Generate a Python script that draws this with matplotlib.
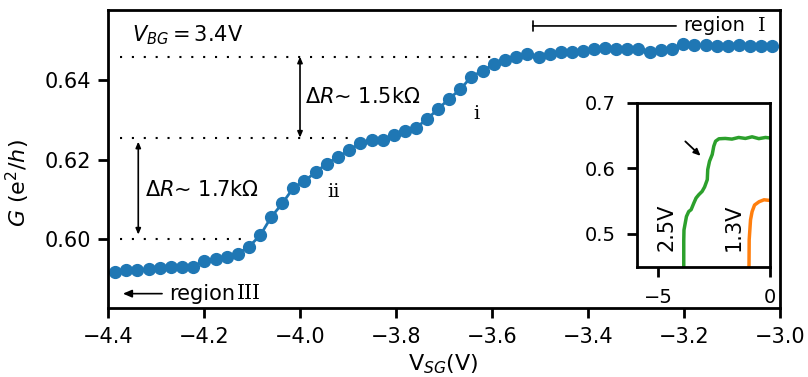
import matplotlib
matplotlib.use('Agg')
import matplotlib.pyplot as plt

# main sweep: G vs side gate voltage
v_sg = [-4.385, -4.362, -4.339, -4.315, -4.292, -4.269, -4.246, -4.223, -4.199, -4.176,
        -4.153, -4.130, -4.107, -4.083, -4.060, -4.037, -4.014, -3.991, -3.967, -3.944,
        -3.921, -3.898, -3.875, -3.851, -3.828, -3.805, -3.782, -3.759, -3.735, -3.712,
        -3.689, -3.666, -3.643, -3.619, -3.596, -3.573, -3.550, -3.527, -3.503, -3.480,
        -3.457, -3.434, -3.411, -3.387, -3.364, -3.341, -3.318, -3.295, -3.271, -3.248,
        -3.225, -3.202, -3.179, -3.155, -3.132, -3.109, -3.086, -3.063, -3.039, -3.016]
g = [0.5918, 0.5923, 0.5924, 0.5926, 0.5929, 0.5931, 0.5931, 0.5932, 0.5946, 0.5952,
     0.5957, 0.5964, 0.5981, 0.6010, 0.6056, 0.6090, 0.6129, 0.6146, 0.6169, 0.6190,
     0.6206, 0.6223, 0.6241, 0.6249, 0.6248, 0.6262, 0.6271, 0.6279, 0.6302, 0.6327,
     0.6353, 0.6376, 0.6408, 0.6423, 0.6439, 0.6449, 0.6456, 0.6464, 0.6456, 0.6464,
     0.6470, 0.6470, 0.6473, 0.6477, 0.6479, 0.6478, 0.6478, 0.6476, 0.6469, 0.6474,
     0.6476, 0.6490, 0.6488, 0.6486, 0.6485, 0.6484, 0.6486, 0.6485, 0.6485, 0.6485]

# plateau levels (dotted guides)
levels = [0.6458, 0.6255, 0.600]
level_ends = [-3.59, -3.89, -4.12]
level_start = -4.375

# inset curves
vbg25_x = [-3.85, -3.85, -3.84, -3.73, -3.63, -3.52, -3.40, -3.30, -3.18, -3.03, -2.92,
           -2.80, -2.78, -2.70, -2.58, -2.51, -2.43, -2.28, -2.0, -1.7, -1.4, -1.1,
           -0.8, -0.5, -0.2, 0.0]
vbg25_y = [0.44, 0.49, 0.506, 0.5265, 0.534, 0.537, 0.547, 0.5547, 0.5597, 0.5648, 0.5715,
           0.5827, 0.598, 0.6107, 0.621, 0.6337, 0.6413, 0.645, 0.6455, 0.6445, 0.647,
           0.6455, 0.648, 0.6452, 0.647, 0.6462]
vbg13_x = [-0.94, -0.93, -0.87, -0.80, -0.69, -0.49, -0.27, 0.0]
vbg13_y = [0.44, 0.491, 0.5214, 0.534, 0.544, 0.549, 0.552, 0.551]

blue = '#1f77b4'
fs = 15

fig = plt.figure(figsize=(8.08, 3.77), dpi=100)
ax = fig.add_axes([0.1337, 0.183, 0.8316, 0.7905])

ax.plot(v_sg, g, 'o-', color=blue, ms=8.5, lw=2)

for lev, end in zip(levels, level_ends):
    ax.plot([level_start, end], [lev, lev], color='k', lw=1.5, ls=(0, (1, 4.7)))

arr = dict(arrowstyle='<|-|>, head_length=0.35, head_width=0.15', color='k', lw=1.2,
           shrinkA=0, shrinkB=0)
ax.annotate('', xy=(-4.0, levels[0]), xytext=(-4.0, levels[1]), arrowprops=arr)
ax.annotate('', xy=(-4.337, 0.6245), xytext=(-4.337, 0.6012), arrowprops=arr)

ax.text(-3.99, 0.6356, r'$\mathit{\Delta R}$~ 1.5kΩ', fontsize=fs, va='center')
ax.text(-4.324, 0.6123, r'$\mathit{\Delta R}$~ 1.7kΩ', fontsize=fs, va='center')
ax.text(-4.351, 0.6512, r'$V_{BG} = 3.4$V', fontsize=fs, va='center')
ax.text(-3.632, 0.6315, 'i', fontsize=14, ha='center', va='center', family='DejaVu Serif')
ax.text(-3.93, 0.6118, 'ii', fontsize=14, ha='center', va='center', family='DejaVu Serif')

# region I: bar-ended line + label
ax.annotate('region', xy=(-3.515, 0.6535), xytext=(-3.073, 0.6535),
            fontsize=14, ha='right', va='center',
            arrowprops=dict(arrowstyle='-[, widthB=0.25, lengthB=0', color='k', lw=1.2,
                            shrinkA=3, shrinkB=0))
ax.text(-3.0375, 0.6535, 'I', fontsize=14, ha='center', va='center', family='DejaVu Serif')
# region III: arrow + label
ax.annotate('region', xy=(-4.369, 0.5864), xytext=(-4.273, 0.5864),
            fontsize=fs, ha='left', va='center',
            arrowprops=dict(arrowstyle='-|>, head_length=0.35, head_width=0.15',
                            color='k', lw=1.2, shrinkA=3, shrinkB=0))
ax.text(-4.131, 0.5864, 'III', fontsize=14.5, ha='left', va='center', family='DejaVu Serif')

ax.set_xlim(-4.4, -3.0)
ax.set_ylim(0.5828, 0.6575)
ax.set_xticks([-4.4, -4.2, -4.0, -3.8, -3.6, -3.4, -3.2, -3.0])
ax.set_yticks([0.60, 0.62, 0.64])
ax.set_xlabel(r'V$_{SG}$(V)', fontsize=16)
ax.set_ylabel(r'$G$ (e$^2$/$h$)', fontsize=16)
ax.xaxis.set_label_coords(0.499, -0.148)
ax.yaxis.set_label_coords(-0.113, 0.42)
ax.tick_params(labelsize=fs, width=2, length=7, pad=5)
ax.tick_params(axis='x', pad=7)
for s in ax.spines.values():
    s.set_linewidth(2)

# inset
axi = fig.add_axes([0.788, 0.2926, 0.165, 0.435])
axi.plot(vbg25_x, vbg25_y, color='#2ca02c', lw=2.5)
axi.plot(vbg13_x, vbg13_y, color='#ff7f0e', lw=2.5)
axi.text(-4.6, 0.51, '2.5V', rotation=90, fontsize=fs, ha='center', va='center')
axi.text(-1.6, 0.51, '1.3V', rotation=90, fontsize=fs, ha='center', va='center')
axi.annotate('', xy=(-3.10, 0.619), xytext=(-3.78, 0.641),
             arrowprops=dict(arrowstyle='-|>, head_length=0.4, head_width=0.18',
                             color='k', lw=1.3, shrinkA=0, shrinkB=0))
axi.set_xlim(-5.95, 0)
axi.set_ylim(0.45, 0.70)
axi.set_xticks([-5, 0])
axi.set_yticks([0.5, 0.6, 0.7])
axi.tick_params(labelsize=14, width=2, length=7, pad=8)
for s in axi.spines.values():
    s.set_linewidth(2)

fig.savefig('out.png', dpi=100)
